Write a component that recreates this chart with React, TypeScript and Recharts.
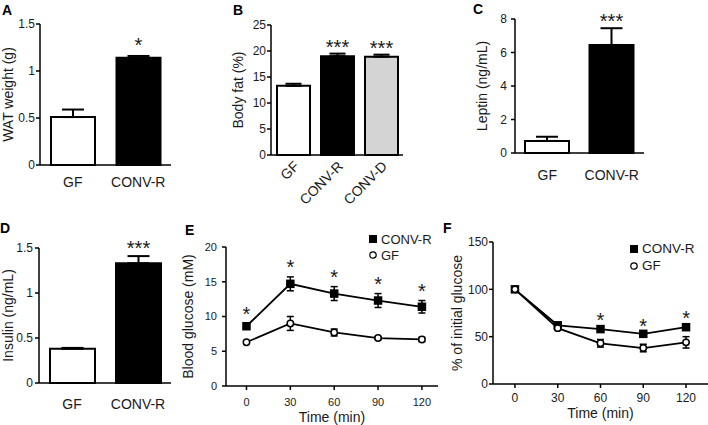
import React from "react";
import {
  BarChart, Bar, Cell, LineChart, Line,
  XAxis, YAxis, ErrorBar, LabelList, Legend,
} from "recharts";

const FONT = "'Liberation Sans', Arial, Helvetica, sans-serif";
const INK = "#1a1a1a";

// A - WAT weight
const watGroups = ["GF", "CONV-R"];
const watMean = [0.51, 1.14];
const watSem = [0.08, 0.02];
const watSig = ["", "*"];
const watTicks = [0, 0.5, 1, 1.5];

// B - body fat
const fatGroups = ["GF", "CONV-R", "CONV-D"];
const fatMean = [13.3, 19.0, 18.9];
const fatSem = [0.4, 0.5, 0.4];
const fatSig = ["", "***", "***"];
const fatTicks = [0, 5, 10, 15, 20, 25];

// C - leptin
const leptinGroups = ["GF", "CONV-R"];
const leptinMean = [0.72, 6.45];
const leptinSem = [0.25, 1.0];
const leptinSig = ["", "***"];
const leptinTicks = [0, 2, 4, 6, 8];

// D - insulin
const insGroups = ["GF", "CONV-R"];
const insMean = [0.38, 1.33];
const insSem = [0.01, 0.08];
const insSig = ["", "***"];
const insTicks = [0, 0.5, 1, 1.5];

// E - blood glucose over time
const timeTicks = [0, 30, 60, 90, 120];
const gttConv = [8.6, 14.7, 13.3, 12.3, 11.4];
const gttConvSem = [0.3, 1.0, 1.0, 1.0, 0.9];
const gttGf = [6.3, 9.0, 7.7, 6.9, 6.7];
const gttGfSem = [0.2, 1.0, 0.5, 0.2, 0.3];
const gttSig = ["*", "*", "*", "*", "*"];
const gttTicks = [0, 5, 10, 15, 20];

// F - % of initial glucose
const ittConv = [100, 62, 58, 53, 60];
const ittConvSem = [1, 2, 3, 2, 3];
const ittGf = [100, 59, 43, 38, 44];
const ittGfSem = [1, 2, 4, 4, 6];
const ittSig = ["", "", "*", "*", "*"];
const ittTicks = [0, 50, 100, 150];

const axisStyle = { stroke: "#000", strokeWidth: 1.5 };

function yLabelContent(text: string, bx: number) {
  return (props: any) => {
    const vb = props.viewBox;
    const cy = vb.y + vb.height / 2;
    return (
      <text transform={`translate(${bx},${cy}) rotate(-90)`} textAnchor="middle"
        fontSize={14} fontFamily={FONT} fill={INK}>{text}</text>
    );
  };
}

function BarPanel(p: any) {
  const data = p.groups.map((g: string, i: number) => ({
    name: g, mean: p.mean[i], err: [0, p.sem[i]], sig: p.sig[i],
  }));

  const star = (props: any) => {
    if (!props.value) return null;
    const vb = props.viewBox ?? props;
    const i = props.index;
    const errTop = vb.y - (p.sem[i] * vb.height) / p.mean[i];
    return (
      <text x={vb.x + vb.width / 2} y={errTop + p.starGap} textAnchor="middle"
        fontSize={20} fontFamily={FONT} fill={INK}>{props.value}</text>
    );
  };

  const catTick = (props: any) => {
    const { x, y, payload } = props;
    if (p.rotate) {
      return (
        <text transform={`translate(${x + 7},${y + 12}) rotate(-45)`} textAnchor="end"
          fontSize={14} fontFamily={FONT} fill={INK}>{payload.value}</text>
      );
    }
    return (
      <text x={x} y={y + p.labelDy} textAnchor="middle"
        fontSize={14} fontFamily={FONT} fill={INK}>{payload.value}</text>
    );
  };

  return (
    <div style={{ position: "absolute", left: p.left, top: p.top }}>
      <BarChart width={p.width} height={p.height} data={data}
        margin={{ top: p.plotTop, right: p.right, left: 0, bottom: 0 }}>
        <XAxis dataKey="name" height={p.xHeight} axisLine={axisStyle} tickLine={false}
          tickSize={0} tickMargin={0} tick={catTick} interval={0} />
        <YAxis domain={[0, p.ticks[p.ticks.length - 1]]} ticks={p.ticks} width={p.yWidth}
          axisLine={axisStyle} tickLine={axisStyle} tickSize={4} tickMargin={p.yTickMargin}
          tick={{ fontSize: 12, fill: INK, fontFamily: FONT }}
          label={{ content: yLabelContent(p.yLabel, p.yLabelX) }} />
        <Bar dataKey="mean" barSize={p.barSize} stroke="#000" strokeWidth={2}
          isAnimationActive={false}>
          {data.map((d: any, i: number) => <Cell key={d.name} fill={p.fills[i]} />)}
          <ErrorBar dataKey="err" width={p.capWidth} stroke="#000" strokeWidth={2} direction="y" />
          <LabelList dataKey="sig" content={star} />
        </Bar>
      </BarChart>
    </div>
  );
}

const squareDot = (size: number) => (props: any) => {
  const { cx, cy, index } = props;
  if (cx == null || cy == null) return <g key={`sq-${index}`} />;
  return <rect key={`sq-${index}`} x={cx - size / 2} y={cy - size / 2}
    width={size} height={size} fill="#000" />;
};

function LinePanel(p: any) {
  const data = timeTicks.map((t, i) => ({
    t, conv: p.conv[i], convErr: p.convSem[i], gf: p.gf[i], gfErr: p.gfSem[i],
    top: p.conv[i] + p.convSem[i], sig: p.sig[i],
  }));

  const star = (props: any) => {
    if (!props.value) return null;
    const vb = props.viewBox ?? props;
    return (
      <text x={vb.x} y={vb.y + p.starGap} textAnchor="middle"
        fontSize={20} fontFamily={FONT} fill={INK}>{props.value}</text>
    );
  };

  const legend = () => (
    <div style={{ fontFamily: FONT, fontSize: p.legendFont, color: INK }}>
      <div style={{ display: "flex", alignItems: "center", height: p.legendRow }}>
        <svg width={10} height={10}><rect x={1} y={1} width={8} height={8} fill="#000" /></svg>
        <span style={{ marginLeft: 3 }}>CONV-R</span>
      </div>
      <div style={{ display: "flex", alignItems: "center", height: p.legendRow }}>
        <svg width={10} height={10}><circle cx={5} cy={5} r={3.2} fill="#fff" stroke="#000" strokeWidth={1.2} /></svg>
        <span style={{ marginLeft: 3 }}>GF</span>
      </div>
    </div>
  );

  const timeLabel = (props: any) => {
    const vb = props.viewBox;
    return (
      <text x={vb.x + vb.width / 2} y={vb.y + p.timeDy} textAnchor="middle"
        fontSize={14} fontFamily={FONT} fill={INK}>Time (min)</text>
    );
  };

  return (
    <div style={{ position: "absolute", left: p.left, top: p.top }}>
      <LineChart width={p.width} height={p.height} data={data}
        margin={{ top: p.plotTop, right: p.right, left: 0, bottom: 0 }}>
        <XAxis dataKey="t" type="number" domain={p.xDomain} ticks={timeTicks}
          allowDataOverflow height={p.xHeight} axisLine={axisStyle} tickLine={axisStyle}
          tickSize={4} tickMargin={p.xTickMargin}
          tick={{ fontSize: p.tickFont, fill: INK, fontFamily: FONT }}
          label={{ content: timeLabel }} />
        <YAxis domain={[0, p.ticks[p.ticks.length - 1]]} ticks={p.ticks} width={p.yWidth}
          axisLine={axisStyle} tickLine={axisStyle} tickSize={4} tickMargin={p.yTickMargin}
          tick={{ fontSize: p.tickFont, fill: INK, fontFamily: FONT }}
          label={{ content: yLabelContent(p.yLabel, p.yLabelX) }} />
        <Legend layout="vertical" align="center" verticalAlign="middle" content={legend}
          wrapperStyle={{ left: p.legendLeft, top: p.legendTop, width: 90, height: 40 }} />
        <Line dataKey="conv" name="CONV-R" stroke="#000" strokeWidth={1.8}
          dot={squareDot(8.5)} activeDot={false} isAnimationActive={false}>
          <ErrorBar dataKey="convErr" width={3.5} stroke="#000" strokeWidth={1.5} direction="y" />
        </Line>
        <Line dataKey="gf" name="GF" stroke="#000" strokeWidth={1.8}
          dot={{ r: 3.2, fill: "#fff", stroke: "#000", strokeWidth: 1.5 }}
          activeDot={false} isAnimationActive={false}>
          <ErrorBar dataKey="gfErr" width={3.5} stroke="#000" strokeWidth={1.5} direction="y" />
        </Line>
        <Line dataKey="top" stroke="none" dot={false} activeDot={false}
          legendType="none" isAnimationActive={false}>
          <LabelList dataKey="sig" content={star} />
        </Line>
      </LineChart>
    </div>
  );
}

const letters = [
  { t: "A", x: 2, y: 15 }, { t: "B", x: 233, y: 15 }, { t: "C", x: 473, y: 14 },
  { t: "D", x: 0, y: 233 }, { t: "E", x: 185, y: 235 }, { t: "F", x: 443, y: 233 },
];

export default function App() {
  return (
    <div style={{ position: "absolute", left: 0, top: 0, width: 708, height: 425,
      background: "#fff", fontFamily: FONT, overflow: "hidden" }}>
      <BarPanel left={0} top={0} width={230} height={210} plotTop={24} right={59}
        yWidth={40} xHeight={45} groups={watGroups} mean={watMean} sem={watSem} sig={watSig}
        fills={["#fff", "#000"]} ticks={watTicks} yLabel="WAT weight (g)" yLabelX={13}
        barSize={44} capWidth={11} starGap={-4} labelDy={22} yTickMargin={1} />
      <BarPanel left={230} top={0} width={230} height={210} plotTop={25} right={57}
        yWidth={41} xHeight={55} groups={fatGroups} mean={fatMean} sem={fatSem} sig={fatSig}
        fills={["#fff", "#000", "#d4d4d4"]} ticks={fatTicks} yLabel="Body fat (%)" yLabelX={13}
        barSize={33} capWidth={8} starGap={0} rotate yTickMargin={1} />
      <BarPanel left={460} top={0} width={248} height={210} plotTop={19} right={64}
        yWidth={55} xHeight={57} groups={leptinGroups} mean={leptinMean} sem={leptinSem}
        sig={leptinSig} fills={["#fff", "#000"]} ticks={leptinTicks} yLabel="Leptin (ng/mL)"
        yLabelX={27} barSize={44} capWidth={11} starGap={0} labelDy={27} yTickMargin={4} />
      <BarPanel left={0} top={210} width={230} height={215} plotTop={38} right={59}
        yWidth={39} xHeight={42} groups={insGroups} mean={insMean} sem={insSem} sig={insSig}
        fills={["#fff", "#000"]} ticks={insTicks} yLabel="Insulin (ng/mL)" yLabelX={13}
        barSize={45} capWidth={11} starGap={-1.5} labelDy={26} yTickMargin={2} />
      <LinePanel left={170} top={210} width={280} height={215} plotTop={37} right={12}
        yWidth={56} xHeight={39} xDomain={[-14, 131]} conv={gttConv} convSem={gttConvSem}
        gf={gttGf} gfSem={gttGfSem} sig={gttSig} ticks={gttTicks}
        yLabel="Blood glucose (mM)" yLabelX={23} tickFont={11} xTickMargin={8} yTickMargin={5}
        timeDy={36} starGap={-3} legendFont={13} legendRow={16} legendLeft={198} legendTop={21} />
      <LinePanel left={450} top={210} width={258} height={215} plotTop={32} right={0}
        yWidth={43} xHeight={41} xDomain={[-15.4, 135.4]} conv={ittConv} convSem={ittConvSem}
        gf={ittGf} gfSem={ittGfSem} sig={ittSig} ticks={ittTicks}
        yLabel="% of initial glucose" yLabelX={12} tickFont={12} xTickMargin={5} yTickMargin={1}
        timeDy={34} starGap={1} legendFont={13.5} legendRow={17} legendLeft={179} legendTop={30} />
      <svg width={708} height={425} style={{ position: "absolute", left: 0, top: 0, pointerEvents: "none" }}>
        {letters.map((l) => (
          <text key={l.t} x={l.x} y={l.y} fontSize={14} fontWeight="bold"
            fontFamily={FONT} fill="#000">{l.t}</text>
        ))}
      </svg>
    </div>
  );
}
